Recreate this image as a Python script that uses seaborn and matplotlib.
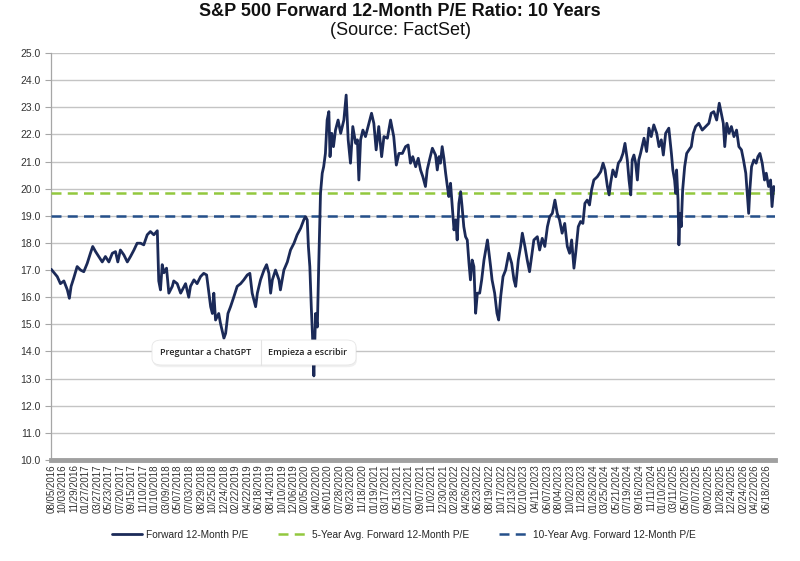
import matplotlib
matplotlib.use("Agg")
import matplotlib.pyplot as plt
import seaborn as sns
import pandas as pd
from matplotlib.patches import FancyBboxPatch
from matplotlib.lines import Line2D

# trading-day number (from 08/05/2016) and forward 12-month P/E
day_index = [
    0, 21, 32, 44, 56, 63, 69, 78, 90, 102, 113, 125, 136, 144, 154, 165, 177, 188, 200, 212,
    223, 231, 240, 252, 264, 275, 287, 298, 310, 321, 333, 344, 356, 368, 373, 379, 385, 391, 400, 408,
    420, 425, 437, 449, 466, 477, 483, 495, 506, 518, 529, 539, 547, 553, 559, 564, 570, 581, 587, 599,
    605, 613, 622, 633, 645, 657, 668, 680, 689, 697, 709, 715, 726, 738, 747, 755, 761, 767, 778, 790,
    795, 807, 819, 830, 842, 853, 865, 876, 882, 888, 892, 897, 902, 906, 911, 917, 923, 928, 934, 940,
    945, 951, 957, 963, 967, 973, 979, 986, 995, 1004, 1015, 1023, 1030, 1038, 1046, 1056, 1062, 1067, 1073, 1081,
    1090, 1102, 1111, 1119, 1127, 1136, 1146, 1154, 1166, 1177, 1188, 1197, 1206, 1218, 1229, 1238, 1246, 1254, 1264, 1273,
    1281, 1289, 1298, 1304, 1312, 1322, 1333, 1339, 1345, 1350, 1356, 1362, 1368, 1374, 1379, 1385, 1391, 1397, 1403, 1408,
    1414, 1420, 1425, 1431, 1437, 1443, 1449, 1454, 1460, 1466, 1472, 1478, 1486, 1493, 1501, 1513, 1524, 1529, 1538, 1546,
    1552, 1559, 1567, 1576, 1587, 1597, 1605, 1611, 1620, 1628, 1634, 1643, 1651, 1659, 1666, 1674, 1686, 1694, 1703, 1712,
    1721, 1729, 1738, 1747, 1755, 1763, 1772, 1781, 1790, 1798, 1805, 1813, 1819, 1828, 1836, 1844, 1851, 1859, 1867, 1874,
    1882, 1894, 1906, 1914, 1921, 1929, 1935, 1940, 1948, 1958, 1967, 1975, 1983, 1990, 1998, 2004, 2010, 2015, 2021, 2027,
    2033, 2038, 2044, 2056, 2065, 2073, 2081, 2090, 2100, 2108, 2116, 2123, 2131, 2142, 2151, 2156, 2162, 2166, 2169, 2174,
    2177, 2181, 2185, 2190, 2197, 2204, 2212, 2220, 2227, 2235, 2246, 2258, 2270, 2281, 2289, 2298, 2308, 2317, 2324, 2331,
    2336, 2343, 2351, 2359, 2368, 2377, 2385, 2394, 2401, 2409, 2414, 2419, 2423, 2429, 2437, 2445, 2451, 2458, 2466, 2474,
    2480, 2488, 2495, 2500, 2506, 2511,
]
pe_ratio = [
    17.03, 16.76, 16.5, 16.6, 16.27, 15.96, 16.4, 16.7, 17.13, 17.0, 16.94, 17.25, 17.62, 17.87, 17.68, 17.5, 17.3, 17.5, 17.3, 17.62,
    17.68, 17.3, 17.74, 17.56, 17.3, 17.5, 17.74, 17.99, 17.99, 17.93, 18.3, 18.42, 18.3, 18.45, 16.6, 16.27, 17.2, 16.9, 17.07, 16.15,
    16.4, 16.6, 16.5, 16.15, 16.5, 16.0, 16.4, 16.64, 16.5, 16.76, 16.88, 16.82, 16.15, 15.65, 15.4, 16.15, 15.16, 15.4, 15.04, 14.49,
    14.67, 15.4, 15.65, 16.0, 16.4, 16.5, 16.64, 16.82, 16.88, 16.15, 15.65, 16.15, 16.64, 17.0, 17.2, 16.88, 16.15, 16.64, 17.0, 16.64,
    16.27, 17.0, 17.3, 17.74, 17.99, 18.3, 18.54, 18.85, 18.97, 18.85, 17.87, 17.13, 15.65, 14.67, 13.1, 15.4, 14.9, 17.25, 19.83, 20.57,
    20.81, 21.3, 22.53, 22.84, 21.18, 22.04, 21.55, 22.16, 22.53, 22.04, 22.53, 23.45, 21.8, 20.94, 22.29, 21.67, 21.8, 20.32, 21.8, 22.16,
    21.92, 22.41, 22.78, 22.41, 21.43, 22.29, 21.18, 21.92, 21.86, 22.53, 21.92, 20.87, 21.3, 21.3, 21.55, 21.61, 20.94, 21.18, 20.81, 21.12,
    20.69, 20.44, 20.08, 20.69, 21.06, 21.49, 21.24, 20.69, 21.18, 20.94, 21.55, 21.12, 20.57, 20.08, 19.71, 20.2, 19.34, 18.48, 18.85, 18.11,
    19.46, 19.89, 19.34, 18.6, 18.23, 18.11, 17.25, 16.64, 17.37, 17.13, 15.41, 16.15, 16.15, 16.64, 17.37, 18.11, 17.13, 16.64, 16.15, 15.41,
    15.16, 16.03, 16.76, 17.0, 17.62, 17.25, 16.64, 16.4, 17.37, 17.87, 18.36, 17.87, 17.37, 16.94, 17.5, 18.11, 18.23, 17.74, 18.17, 17.87,
    18.6, 18.97, 19.09, 19.58, 19.09, 18.85, 18.36, 18.72, 17.87, 17.62, 18.11, 17.07, 17.62, 18.6, 18.79, 18.72, 19.46, 19.58, 19.4, 19.95,
    20.32, 20.44, 20.63, 20.94, 20.69, 20.08, 19.77, 20.2, 20.69, 20.44, 20.94, 21.06, 21.3, 21.67, 21.06, 20.32, 19.77, 21.06, 21.24, 20.94,
    20.32, 21.06, 21.3, 21.86, 21.37, 22.23, 21.92, 22.35, 22.04, 21.55, 21.8, 21.24, 22.04, 22.23, 21.3, 20.69, 20.32, 19.83, 20.69, 19.58,
    17.93, 19.09, 18.6, 19.95, 20.81, 21.3, 21.43, 21.55, 22.04, 22.29, 22.41, 22.16, 22.29, 22.41, 22.78, 22.84, 22.53, 23.15, 22.78, 22.41,
    21.55, 22.41, 22.04, 22.29, 21.92, 22.16, 21.55, 21.43, 21.06, 20.57, 19.83, 19.09, 19.95, 20.81, 21.06, 20.94, 21.18, 21.3, 20.94, 20.32,
    20.57, 20.08, 20.32, 19.34, 20.08, 19.95,
]
avg_5yr = 19.85
avg_10yr = 19.0

date_labels = [
    "08/05/2016", "10/03/2016", "11/29/2016", "01/27/2017", "03/27/2017", "05/23/2017", "07/20/2017",
    "09/15/2017", "11/10/2017", "01/10/2018", "03/09/2018", "05/07/2018", "07/03/2018", "08/29/2018",
    "10/25/2018", "12/24/2018", "02/22/2019", "04/22/2019", "06/18/2019", "08/14/2019", "10/10/2019",
    "12/06/2019", "02/05/2020", "04/02/2020", "06/01/2020", "07/28/2020", "09/23/2020", "11/18/2020",
    "01/19/2021", "03/17/2021", "05/13/2021", "07/12/2021", "09/07/2021", "11/02/2021", "12/30/2021",
    "02/28/2022", "04/26/2022", "06/23/2022", "08/19/2022", "10/17/2022", "12/13/2022", "02/10/2023",
    "04/11/2023", "06/07/2023", "08/04/2023", "10/02/2023", "11/28/2023", "01/26/2024", "03/25/2024",
    "05/21/2024", "07/19/2024", "09/16/2024", "11/11/2024", "01/10/2025", "03/11/2025", "05/07/2025",
    "07/07/2025", "09/02/2025", "10/28/2025", "12/24/2025", "02/24/2026", "04/22/2026", "06/18/2026",
]
label_step = 40  # trading days between labels

sns.set_style("white")
plt.rcParams["font.family"] = ["Liberation Sans", "DejaVu Sans"]

fig = plt.figure(figsize=(8, 5.61), dpi=100)
ax = fig.add_axes([0.064, 0.180, 0.905, 0.7255])

df = pd.DataFrame({"day": day_index, "pe": pe_ratio})
sns.lineplot(data=df, x="day", y="pe", ax=ax, color="#1b2a58", linewidth=2.0,
             label="Forward 12-Month P/E", zorder=4)
ax.axhline(avg_5yr, color="#92c83e", linestyle=(0, (4, 2.5)), linewidth=1.8,
           label="5-Year Avg. Forward 12-Month P/E", zorder=3)
ax.axhline(avg_10yr, color="#25508a", linestyle=(0, (4, 2.5)), linewidth=1.8,
           label="10-Year Avg. Forward 12-Month P/E", zorder=3)

ax.set_xlim(0, max(day_index))
ax.set_ylim(10, 25)
ax.set_yticks([10 + i for i in range(16)])
ax.set_yticklabels([f"{10 + i:.1f}" for i in range(16)])
ax.set_xticks([i * label_step for i in range(len(date_labels))])
ax.set_xticklabels(date_labels, rotation=90)
ax.tick_params(axis="x", length=0, labelsize=7, colors="#333333", pad=3)
ax.tick_params(axis="y", length=4, width=0.8, color="#a6a6a6", labelsize=7.5, colors="#333333", left=True)
ax.set_xlabel("")
ax.set_ylabel("")
ax.grid(axis="y", color="#c4c4c4", linewidth=1.0)
ax.set_axisbelow(True)

for side in ["top", "right"]:
    ax.spines[side].set_visible(False)
ax.spines["left"].set_color("#a6a6a6")
ax.spines["left"].set_linewidth(0.9)
ax.spines["bottom"].set_color("#a0a0a0")
ax.spines["bottom"].set_linewidth(3.5)

ax.legend(loc="center", bbox_to_anchor=(0.487, -0.184), ncol=3, frameon=False,
          fontsize=7.3, handlelength=2.9, columnspacing=3.0, handletextpad=0.4)

fig.text(0.5, 0.980, "S&P 500 Forward 12-Month P/E Ratio: 10 Years", ha="center", va="center",
         fontsize=13, fontweight="bold", color="#111111")
fig.text(0.5, 0.945, "(Source: FactSet)", ha="center", va="center", fontsize=13, color="#111111")

# browser overlay captured in the screenshot
W, H = 800.0, 561.0
box_x0, box_x1, box_y0, box_y1 = 152 / W, 356 / W, 1 - 365 / H, 1 - 340 / H
shadow = FancyBboxPatch((box_x0 + 0.001, box_y0 - 0.004), box_x1 - box_x0, box_y1 - box_y0,
                        boxstyle="round,pad=0,rounding_size=0.012", transform=fig.transFigure,
                        facecolor="#000000", alpha=0.06, edgecolor="none", zorder=9)
popup = FancyBboxPatch((box_x0, box_y0), box_x1 - box_x0, box_y1 - box_y0,
                       boxstyle="round,pad=0,rounding_size=0.012", transform=fig.transFigure,
                       facecolor="white", edgecolor="#e6e6e6", linewidth=0.6, zorder=10)
fig.patches.extend([shadow, popup])
fig.lines.append(Line2D([260.5 / W, 260.5 / W], [box_y0, box_y1], transform=fig.transFigure,
                        color="#e3e3e3", linewidth=0.8, zorder=11))
popup_y = (box_y0 + box_y1) / 2
fig.text(205.5 / W, popup_y, "Preguntar a ChatGPT", ha="center", va="center", fontsize=6.5,
         fontweight="semibold", family=["Open Sans", "DejaVu Sans"], color="#222222", zorder=12)
fig.text(307.5 / W, popup_y, "Empieza a escribir", ha="center", va="center", fontsize=6.5,
         fontweight="semibold", family=["Open Sans", "DejaVu Sans"], color="#222222", zorder=12)

fig.savefig("out.png", dpi=100, facecolor="white")
